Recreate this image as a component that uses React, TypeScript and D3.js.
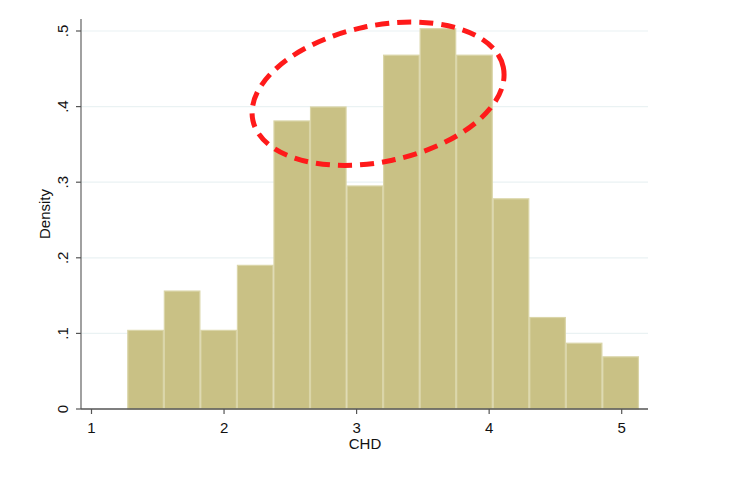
import React from "react";
import * as d3 from "d3";

const binStart = 1.27;
const binEnd = 5.13;
const densities = [0.104, 0.156, 0.104, 0.19, 0.381, 0.3995, 0.295, 0.468, 0.503, 0.468, 0.278, 0.121, 0.087, 0.069];
const xTicks = [1, 2, 3, 4, 5];
const yTicks = [0, 0.1, 0.2, 0.3, 0.4, 0.5];
const yTickLabels = ["0", ".1", ".2", ".3", ".4", ".5"];
// annotation ellipse in data units: center x, center y
const ellipseCenter = [3.162, 0.417];

export default function App() {
  const W = 740, H = 478;
  const x = d3.scaleLinear().domain([1, 5]).range([91.5, 621.7]);
  const y = d3.scaleLinear().domain([0, 0.5]).range([409, 31]);
  const axLeft = 81, axRight = 648, axTop = 19, axBottom = 409;
  const n = densities.length;
  const bw = (binEnd - binStart) / n;
  const font = "'Liberation Sans', Arial, sans-serif";
  const cx = x(ellipseCenter[0]);
  const cy = y(ellipseCenter[1]);
  return (
    <svg width={W} height={H} style={{ position: "absolute", left: 0, top: 0, background: "#fff" }} fontFamily={font}>
      <rect x={0} y={0} width={W} height={H} fill="#fff" />
      {yTicks.slice(1).map((t) => (
        <line key={"g" + t} x1={axLeft} x2={axRight} y1={y(t)} y2={y(t)} stroke="#EAF2F3" strokeWidth={1.2} />
      ))}
      {densities.map((d, i) => {
        const x0 = x(binStart + i * bw);
        const x1 = x(binStart + (i + 1) * bw);
        return (
          <rect key={i} x={x0 + 0.5} y={y(d)} width={x1 - x0 - 1} height={y(0) - y(d)} fill="#C9C185" stroke="#DAD5A8" strokeWidth={1.2} />
        );
      })}
      <line x1={axLeft} x2={axLeft} y1={axTop} y2={axBottom} stroke="#6E6E6E" strokeWidth={1.3} />
      <line x1={axLeft} x2={axRight} y1={axBottom} y2={axBottom} stroke="#555" strokeWidth={1.3} />
      {yTicks.map((t, i) => (
        <g key={"y" + t}>
          <line x1={axLeft - 5} x2={axLeft} y1={y(t)} y2={y(t)} stroke="#555" strokeWidth={1.2} />
          <text transform={`translate(68,${y(t)}) rotate(-90)`} textAnchor="middle" fontSize={15} fill="#111">
            {yTickLabels[i]}
          </text>
        </g>
      ))}
      {xTicks.map((t) => (
        <g key={"x" + t}>
          <line x1={x(t)} x2={x(t)} y1={axBottom} y2={axBottom + 5} stroke="#555" strokeWidth={1.2} />
          <text x={x(t)} y={433} textAnchor="middle" fontSize={15} fill="#111">
            {t}
          </text>
        </g>
      ))}
      <text x={365} y={449} textAnchor="middle" fontSize={15} fill="#111">CHD</text>
      <text transform={`translate(50,214) rotate(-90)`} textAnchor="middle" fontSize={15} fill="#111">
        Density
      </text>
      <ellipse cx={cx} cy={cy} rx={128} ry={68} transform={`rotate(-12,${cx},${cy})`} fill="none" stroke="#FF1A1A" strokeWidth={5} strokeDasharray="14 8" />
    </svg>
  );
}
